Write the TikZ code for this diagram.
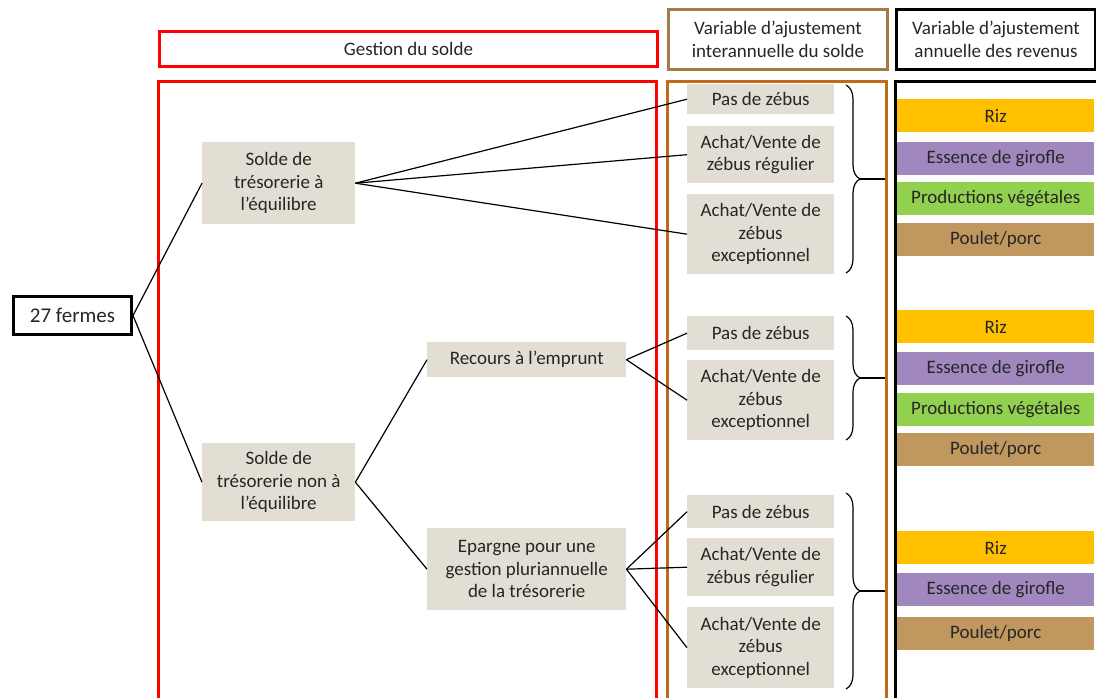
\documentclass[tikz,border=0pt]{standalone}
\usepackage{fontspec}
\setmainfont{Carlito}
\usetikzlibrary{decorations.pathreplacing}
\definecolor{beige}{HTML}{E3DED3}
\definecolor{txt}{HTML}{262626}
\definecolor{hbrown}{HTML}{A47A45}
\definecolor{obrown}{HTML}{C26A1C}
\definecolor{riz}{HTML}{FFC000}
\definecolor{girofle}{HTML}{A088BF}
\definecolor{veg}{HTML}{92D050}
\definecolor{poulet}{HTML}{C0975E}
\begin{document}
\begin{tikzpicture}[x=1pt,y=-1pt,
  gbox/.style={fill=beige, align=center, inner sep=0pt, anchor=north west, text=txt,
    font=\fontsize{19}{22.5}\selectfont},
  bar/.style={anchor=north west, inner sep=0pt, minimum width=197pt, minimum height=33pt,
    text=txt, font=\fontsize{19}{22}\selectfont},
  hdr/.style={anchor=north west, inner sep=0pt, align=center, text=txt,
    font=\fontsize{19}{23}\selectfont, line width=3pt},
  link/.style={line width=1.2pt, black},
  bracestyle/.style={line width=1.2pt, black, decorate, decoration={brace, amplitude=14pt}}
]
\useasboundingbox (0,0) rectangle (1096,698);

% column frames
\node[hdr, draw=red, minimum width=498pt, minimum height=35pt] (h1) at (158,30) {Gestion du solde};
\node[hdr, draw=hbrown, minimum width=219pt, minimum height=60pt] (h2) at (667,8) {Variable d’ajustement\\interannuelle du solde};
\node[hdr, draw=black, minimum width=199pt, minimum height=60pt] (h3) at (895,8) {Variable d’ajustement\\annuelle des revenus};
\draw[line width=3pt, red] (158,720) -- (158,82) -- (656,82) -- (656,720);
\draw[line width=3pt, obrown] (667,720) -- (667,82) -- (886,82) -- (886,720);
\draw[line width=3pt, black] (895,720) -- (895,82) -- (1100,82);

% root
\node[draw=black, line width=3pt, inner sep=0pt, minimum width=118pt, minimum height=38pt,
  anchor=north west, text=txt, font=\fontsize{21}{24}\selectfont] (f) at (12,295) {27 fermes};

% level 1
\node[gbox, minimum width=153pt, minimum height=82pt] (s1) at (202,142) {Solde de\\trésorerie à\\l’équilibre};
\node[gbox, minimum width=153pt, minimum height=78pt] (s2) at (202,443) {Solde de\\trésorerie non à\\l’équilibre};

% level 2
\node[gbox, minimum width=199pt, minimum height=35pt] (r) at (427,342) {Recours à l’emprunt};
\node[gbox, minimum width=199pt, minimum height=82pt] (e) at (427,528) {Epargne pour une\\gestion pluriannuelle\\de la trésorerie};

% group 1
\node[gbox, minimum width=147pt, minimum height=30pt] (a1) at (687,84) {Pas de zébus};
\node[gbox, minimum width=147pt, minimum height=57pt] (a2) at (687,126) {Achat/Vente de\\zébus régulier};
\node[gbox, minimum width=147pt, minimum height=80pt] (a3) at (687,194) {Achat/Vente de\\zébus\\exceptionnel};
% group 2
\node[gbox, minimum width=147pt, minimum height=34pt] (b1) at (687,316) {Pas de zébus};
\node[gbox, minimum width=147pt, minimum height=80pt] (b2) at (687,360) {Achat/Vente de\\zébus\\exceptionnel};
% group 3
\node[gbox, minimum width=147pt, minimum height=33pt] (c1) at (687,495) {Pas de zébus};
\node[gbox, minimum width=147pt, minimum height=58pt] (c2) at (687,538) {Achat/Vente de\\zébus régulier};
\node[gbox, minimum width=147pt, minimum height=81pt] (c3) at (687,607) {Achat/Vente de\\zébus\\exceptionnel};

% connectors
\draw[link] (f.east) -- (s1.west);
\draw[link] (f.east) -- (s2.west);
\draw[link] (s1.east) -- (a1.west);
\draw[link] (s1.east) -- (a2.west);
\draw[link] (s1.east) -- (a3.west);
\draw[link] (s2.east) -- (r.west);
\draw[link] (s2.east) -- (e.west);
\draw[link] (r.east) -- (b1.west);
\draw[link] (r.east) -- (b2.west);
\draw[link] (e.east) -- (c1.west);
\draw[link] (e.east) -- (c2.west);
\draw[link] (e.east) -- (c3.west);

% braces
\coordinate (g1t) at (846,85);  \coordinate (g1b) at (846,273);
\coordinate (g2t) at (846,316); \coordinate (g2b) at (846,440);
\coordinate (g3t) at (846,493); \coordinate (g3b) at (846,689);
\draw[bracestyle] (g1t) -- (g1b);
\draw[bracestyle] (g2t) -- (g2b);
\draw[bracestyle] (g3t) -- (g3b);
\coordinate (m1) at (860,179); \coordinate (e1) at (885,179);
\coordinate (m2) at (860,378); \coordinate (e2) at (885,378);
\coordinate (m3) at (860,591); \coordinate (e3) at (885,591);
\draw[link] (m1) -- (e1);
\draw[link] (m2) -- (e2);
\draw[link] (m3) -- (e3);

% revenue bars
\node[bar, fill=riz] (p1) at (897,99) {Riz};
\node[bar, fill=girofle] (p2) at (897,142) {Essence de girofle};
\node[bar, fill=veg] (p3) at (897,182) {Productions végétales};
\node[bar, fill=poulet] (p4) at (897,223) {Poulet/porc};

\node[bar, fill=riz] (q1) at (897,310) {Riz};
\node[bar, fill=girofle] (q2) at (897,352) {Essence de girofle};
\node[bar, fill=veg] (q3) at (897,393) {Productions végétales};
\node[bar, fill=poulet] (q4) at (897,433) {Poulet/porc};

\node[bar, fill=riz] (t1) at (897,531) {Riz};
\node[bar, fill=girofle] (t2) at (897,573) {Essence de girofle};
\node[bar, fill=poulet] (t3) at (897,617) {Poulet/porc};
\end{tikzpicture}
\end{document}
